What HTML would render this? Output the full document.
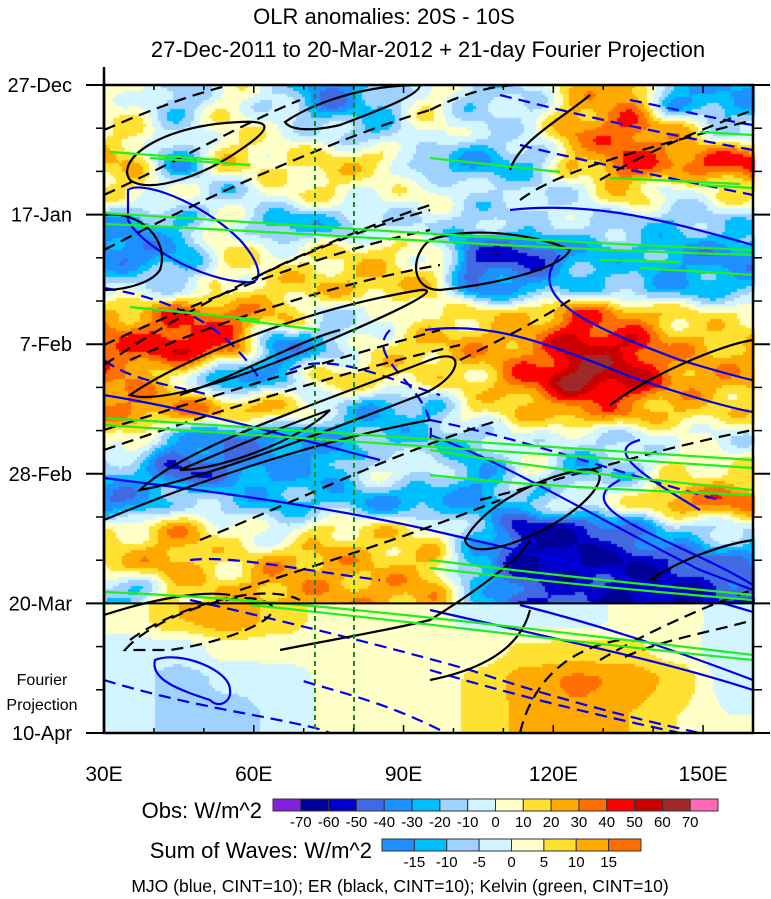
<!DOCTYPE html>
<html><head><meta charset="utf-8"><style>
body{margin:0;background:#fff;}
#wrap{position:relative;width:771px;height:899px;overflow:hidden;font-family:"Liberation Sans",sans-serif;}
canvas{position:absolute;left:0;top:0;}
svg{position:absolute;left:0;top:0;}
</style></head><body>
<div id="wrap">
<canvas id="cv" width="771" height="899"></canvas>
<svg id="sv" width="771" height="899">
<defs><clipPath id="clip"><rect x="104" y="85" width="649" height="648"/></clipPath></defs>
<text x="384" y="24" font-size="22" text-anchor="middle">OLR anomalies: 20S - 10S</text>
<text x="428" y="57" font-size="22" text-anchor="middle">27-Dec-2011 to 20-Mar-2012 + 21-day Fourier Projection</text>
<g clip-path="url(#clip)" fill="none" stroke-width="2.2">
 <g stroke="#0000ee">
  <path d="M128,190 C140,180 200,200 240,240 C262,265 265,285 245,282 C200,280 140,245 128,220 Z"/>
  <path d="M104,478 C200,490 320,505 430,530 C560,560 680,590 753,612"/>
  <path d="M425,330 C500,320 560,350 640,380 C700,400 740,410 753,412"/>
  <path d="M560,255 C520,300 600,330 680,360 C720,372 750,380 753,380"/>
  <path d="M510,210 C600,200 680,225 753,245"/>
  <path d="M640,440 C600,450 650,480 700,510"/>
  <path d="M620,480 C560,510 680,540 753,585"/>
  <path d="M430,435 C500,460 600,520 700,570 L753,590"/>
  <path d="M103,395 C200,410 300,440 380,460"/>
  <path d="M430,610 C560,640 660,660 753,690"/>
  <path d="M520,605 C620,630 700,660 753,680"/>
  <path d="M155,660 C180,650 230,670 230,690 C232,700 220,710 210,700 C180,690 150,680 155,660 Z"/>
  <g stroke-dasharray="12,7">
   <path d="M500,95 C560,110 640,130 753,150"/>
   <path d="M520,145 C600,165 680,180 753,195"/>
   <path d="M104,288 C180,300 230,330 260,380"/>
   <path d="M290,370 C330,350 390,380 440,395"/>
   <path d="M390,330 C360,360 440,390 430,440"/>
   <path d="M104,360 C130,380 170,385 210,395"/>
   <path d="M430,420 C530,440 640,480 720,500"/>
   <path d="M190,560 C230,555 300,570 380,580"/>
   <path d="M190,600 C280,620 400,650 470,670 C560,700 640,720 700,733"/>
   <path d="M104,680 C200,710 300,720 330,733"/>
   <path d="M430,670 C530,700 620,720 680,733"/>
   <path d="M440,730 C380,700 330,690 300,680"/>
   <path d="M630,100 C680,110 720,120 753,125"/>
  </g>
 </g>
 <g stroke="#000">
  <path d="M130,180 C115,160 160,125 240,122 C275,120 270,130 240,150 C205,175 150,195 130,180 Z"/>
  <path d="M285,122 C310,105 360,85 420,85 C420,95 380,110 340,125 C310,132 290,130 285,122 Z"/>
  <path d="M104,215 C140,210 170,240 160,270 C150,285 120,290 104,290"/>
  <path d="M130,395 C180,360 300,310 420,290 C445,288 400,310 330,340 C250,375 160,405 130,395 Z"/>
  <path d="M180,395 C240,375 300,340 340,330"/>
  <path d="M140,490 C180,450 300,410 430,360 C470,345 460,380 420,395 C330,430 200,480 140,490 Z"/>
  <path d="M180,470 C250,440 300,420 330,410 C300,440 220,470 180,470 Z"/>
  <path d="M104,520 C200,480 320,440 430,420"/>
  <path d="M510,170 C520,140 560,120 590,95"/>
  <path d="M430,240 C470,225 540,235 570,250 C560,270 490,285 440,290 C410,290 410,255 430,240 Z"/>
  <path d="M465,540 C480,510 530,480 580,470 C615,465 600,495 560,520 C520,545 470,560 465,540 Z"/>
  <path d="M610,405 C650,375 720,345 753,340"/>
  <path d="M650,580 C680,560 720,545 753,540"/>
  <path d="M280,650 C330,640 390,630 430,620 C470,595 520,560 530,540"/>
  <path d="M430,680 C480,670 520,650 530,610"/>
  <path d="M104,615 C150,600 200,590 230,595"/>
  <g stroke-dasharray="12,7">
   <path d="M104,250 C200,200 330,140 430,110"/>
   <path d="M104,195 C180,160 250,120 300,100"/>
   <path d="M104,130 C150,110 190,95 230,85"/>
   <path d="M260,275 C330,240 400,215 430,205"/>
   <path d="M104,365 C200,300 320,240 430,210"/>
   <path d="M104,345 C200,300 330,250 430,230"/>
   <path d="M130,360 C220,320 350,280 440,265"/>
   <path d="M104,430 C200,400 330,360 440,330"/>
   <path d="M104,450 C220,410 350,370 460,345"/>
   <path d="M200,540 C300,500 400,450 500,420"/>
   <path d="M240,590 C300,570 400,540 500,500"/>
   <path d="M125,650 C150,620 230,590 260,600 C300,610 240,640 170,650 Z"/>
   <path d="M130,640 C170,610 260,580 300,600"/>
   <path d="M430,110 C470,90 500,85 520,85"/>
   <path d="M520,200 C560,170 640,150 753,120"/>
   <path d="M600,180 C650,150 700,130 753,110"/>
   <path d="M480,500 C560,480 650,450 753,430"/>
   <path d="M600,660 C650,630 720,600 753,590"/>
   <path d="M520,733 C530,690 560,650 620,640"/>
   <path d="M625,657 C660,640 720,630 753,620"/>
   <path d="M460,360 C500,340 540,320 570,300"/>
  </g>
 </g>
 <g stroke="#22ee22">
  <path d="M104,213 C300,225 500,240 753,250"/>
  <path d="M104,224 C300,232 500,248 753,255"/>
  <path d="M104,418 C300,430 500,445 753,460"/>
  <path d="M104,425 C300,438 500,452 753,468"/>
  <path d="M104,592 C300,600 500,625 753,655"/>
  <path d="M250,605 C400,620 550,640 753,660"/>
  <path d="M430,560 C550,575 650,585 753,595"/>
  <path d="M430,568 C550,582 650,592 753,600"/>
  <path d="M430,450 C550,470 650,480 753,490"/>
  <path d="M430,475 C520,485 620,490 753,495"/>
  <path d="M110,152 L220,160"/><path d="M150,158 L250,165"/>
  <path d="M430,158 L560,172"/><path d="M610,178 L740,184"/>
  <path d="M130,307 L260,320"/><path d="M240,320 L320,330"/>
  <path d="M700,132 L753,135"/><path d="M700,185 L753,188"/>
  <path d="M640,268 L753,275"/><path d="M600,260 L680,262"/>
 </g>
 <g stroke="#1a8a1a" stroke-width="2" stroke-dasharray="5,4">
  <line x1="315" y1="85" x2="315" y2="733"/><line x1="354" y1="85" x2="354" y2="733"/>
 </g>
</g>
<g id="axes"></g>
<text x="262" y="818" font-size="22" text-anchor="end">Obs: W/m^2</text>
<g id="cb1"></g>
<text x="372" y="858" font-size="22" text-anchor="end">Sum of Waves: W/m^2</text>
<g id="cb2"></g>
<text x="400" y="892" font-size="17.5" text-anchor="middle">MJO (blue, CINT=10); ER (black, CINT=10); Kelvin (green, CINT=10)</text>
<text x="42" y="685" font-size="16" text-anchor="middle">Fourier</text>
<text x="42" y="710" font-size="16" text-anchor="middle">Projection</text>
</svg>
</div>
<script>
const lonCenters=[35,45,55,65,75,85,95,105,115,125,135,145,155];
const obsDays=[2.5,7.5,12.5,17.5,22.5,27.5,32.5,37.5,42.5,47.5,52.5,57.5,62.5,67.5,72.5,77.5,82];
const obsVals=[
[5,-20,5,-10,-40,-20,5,-15,-10,20,30,-30,-30],
[10,-10,10,0,-10,-20,5,-10,-5,30,40,20,-10],
[20,-30,15,10,15,15,-20,-30,-20,20,40,35,45],
[10,0,-15,5,10,0,5,-10,-10,-5,20,-5,10],
[-30,-20,5,-30,-20,-10,-10,-15,-10,-10,-15,-20,-15],
[-40,-30,10,5,10,15,5,-50,-55,-30,-20,-30,-35],
[-10,-10,5,15,20,20,15,-40,-30,-20,-20,-30,-25],
[25,40,35,20,-10,-5,10,15,20,40,30,15,10],
[40,50,40,-40,-20,10,20,25,30,55,50,25,20],
[30,10,-40,-20,15,15,10,15,40,65,55,30,25],
[30,30,25,20,-10,-30,-20,10,20,35,30,20,15],
[10,-30,-40,-35,-30,-20,-20,-15,0,-10,-10,0,-5],
[-20,-50,-40,-30,-30,0,-5,-30,0,-25,-15,10,10],
[-40,-10,-20,-25,-20,-30,-30,-30,-20,0,5,30,35],
[10,25,10,-5,15,15,10,-20,-60,-60,-40,-20,-10],
[20,25,10,25,25,20,20,-30,-60,-60,-60,-50,-40],
[-20,15,20,25,25,25,25,-20,-50,-50,-60,-60,-50]];
const fcDays=[86.5,91.5,96.5,102];
const fcVals=[
[2,10,14,8,3,3,2,-2,-2,-2,1,3,-3],
[-2,-3,2,2,2,2,2,3,6,7,6,3,-4],
[-3,-7,-4,-3,1,2,2,6,13,16,14,8,-2],
[-3,-7,-7,-4,1,2,2,6,12,14,10,5,0]];
const obsLevels=[-70,-60,-50,-40,-30,-20,-10,0,10,20,30,40,50,60,70];
const obsColors=["#8220e0","#000096","#0000cd","#4169e1","#1e90ff","#00bfff","#a0d2ff","#d2f5ff","#ffffc8","#ffe132","#ffaa00","#ff6e00","#ff0000","#c80000","#a02828","#ff69b4"];
const wLevels=[-15,-10,-5,0,5,10,15];
const wColors=["#1e90ff","#00bfff","#a0d2ff","#d2f5ff","#ffffc8","#ffe132","#ffaa00","#ff6e00"];
const dayTicks=["27-Dec","17-Jan","7-Feb","28-Feb","20-Mar","10-Apr"];
const dayTickVals=[0,21,42,63,84,105];
const lonTicks=[30,60,90,120,150];

const X0=104,X1=753,Y0=85,Y1=733;
const xS=l=>X0+(l-30)/130*(X1-X0);
const yS=d=>Y0+d/105*(Y1-Y0);
const lonOf=x=>30+(x-X0)/(X1-X0)*130;
const dayOf=y=>(y-Y0)/(Y1-Y0)*105;
function interp(arr,p){if(p<=arr[0])return [0,0,0];const n=arr.length;if(p>=arr[n-1])return [n-1,n-1,0];
 for(let i=0;i<n-1;i++)if(p<arr[i+1])return [i,i+1,(p-arr[i])/(arr[i+1]-arr[i])];}
function val(vals,days,lon,day){const [a,b,t]=interp(lonCenters,lon);const [c,d,u]=interp(days,day);
 const s=x=>x*x*(3-2*x);const ts=s(t),us=s(u);
 const v0=vals[c][a]*(1-ts)+vals[c][b]*ts, v1=vals[d][a]*(1-ts)+vals[d][b]*ts;return v0*(1-us)+v1*us;}
function col(v,lv,cs){let i=0;while(i<lv.length&&v>=lv[i])i++;return cs[i];}
const ctx=document.getElementById('cv').getContext('2d');
const step=3;
for(let y=Y0;y<Y1;y+=step){for(let x=X0;x<X1;x+=step){
 const lon=lonOf(x+step/2),day=dayOf(y+step/2);
 const n=Math.sin(lon*0.45+day*0.7)*5+Math.cos(lon*0.3-day*0.9+1.3)*5;
 if(day<84){ctx.fillStyle=col(val(obsVals,obsDays,lon,day)+n,obsLevels,obsColors);}
 else{ctx.fillStyle=col(val(fcVals,fcDays,lon,day),wLevels,wColors);}
 ctx.fillRect(x,y,step,step);}}
const NS='http://www.w3.org/2000/svg';
function mk(tag,at,parent,txt){const e=document.createElementNS(NS,tag);for(const k in at)e.setAttribute(k,at[k]);if(txt!==undefined)e.textContent=txt;parent.appendChild(e);return e;}
const ax=document.getElementById('axes');
let e=mk('rect',{x:X0,y:Y0,width:X1-X0,height:Y1-Y0,fill:'none',stroke:'#000','stroke-width':2.5},ax);


e=mk('line',{x1:X0,y1:67,x2:X0,y2:Y1,stroke:'#000','stroke-width':2.5},ax);


e=mk('line',{x1:X0,y1:yS(84),x2:X1,y2:yS(84),stroke:'#000','stroke-width':2},ax);


dayTicks.forEach((lab,i)=>{const y=yS(dayTickVals[i]);
 let t=mk('line',{x1:86,y1:y,x2:X0,y2:y,stroke:'#000','stroke-width':2},ax);
 
 
 t=mk('line',{x1:X1,y1:y,x2:770,y2:y,stroke:'#000','stroke-width':2},ax);
 
 
 t=mk('text',{x:72,y:y+7,'font-size':20,'text-anchor':'end'},ax,lab);
 
 });
for(let d=7;d<105;d+=7){if(d%21===0)continue;const y=yS(d);
 let t=mk('line',{x1:96,y1:y,x2:X0,y2:y,stroke:'#000','stroke-width':1.5},ax);
 
 
 t=mk('line',{x1:X1,y1:y,x2:762,y2:y,stroke:'#000','stroke-width':1.5},ax);
 
 }
for(let l=40;l<160;l+=10){const x=xS(l);
 let t=mk('line',{x1:x,y1:Y0,x2:x,y2:Y0+(l%30===0?8:5),stroke:'#000','stroke-width':1.5},ax);
 
 
 t=mk('line',{x1:x,y1:Y1,x2:x,y2:Y1-(l%30===0?8:5),stroke:'#000','stroke-width':1.5},ax);
 
 }
lonTicks.forEach(l=>{let t=mk('text',{x:xS(l),y:781,'font-size':21,'text-anchor':'middle'},ax,l+'E');
 
 });
function bar(g,x0,x1,y0,h,cs,lv,fs){const w=(x1-x0)/cs.length;
 cs.forEach((c,i)=>{const r=mk('rect',{x:x0+i*w,y:y0,width:w,height:h,fill:c,stroke:'#333','stroke-width':1},g);
  
  });
 lv.forEach((v,i)=>{const t=mk('text',{x:x0+(i+1)*w,y:y0+h+16,'font-size':fs,'text-anchor':'middle'},g,String(v));
  
  });}
bar(document.getElementById('cb1'),273,718,799,12,obsColors,obsLevels,15);
bar(document.getElementById('cb2'),382,641,839,12,wColors,wLevels,15);
</script>
</body></html>
